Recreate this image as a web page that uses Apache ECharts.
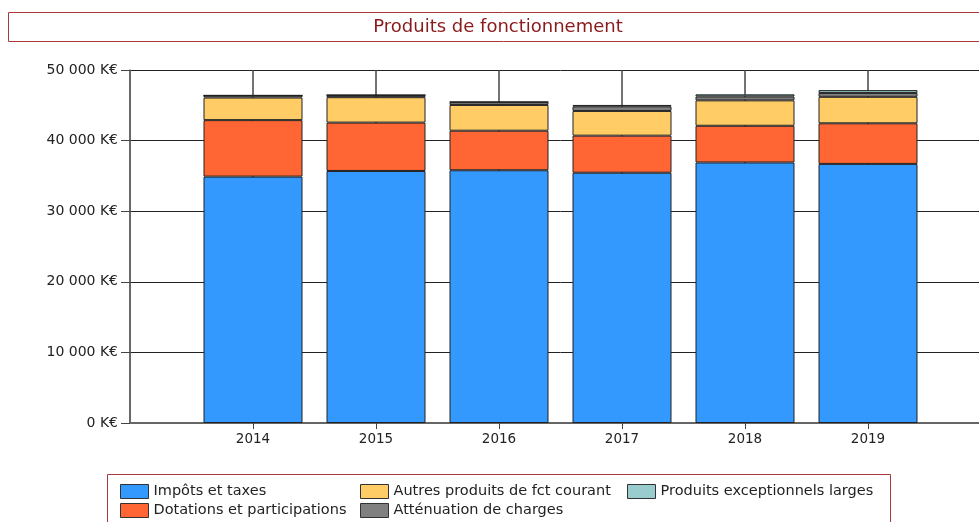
<!DOCTYPE html>
<html>
<head>
<meta charset="utf-8">
<script src="https://cdn.jsdelivr.net/npm/echarts@6/dist/echarts.min.js"></script>
<style>html,body{margin:0;padding:0;background:#fff;overflow:hidden;width:979px;height:522px}#c{width:1000px;height:522px}</style>
</head>
<body>
<div id="c"></div>
<script>
const years = ['2014', '2015', '2016', '2017', '2018', '2019'];
const impots = [34900, 35700, 35800, 35450, 36900, 36700];
const dotations = [8000, 6850, 5600, 5250, 5200, 5750];
const autres = [3200, 3600, 3650, 3500, 3600, 3750];
const attenuation = [300, 300, 400, 650, 550, 550];
const exceptionnels = [0, 0, 50, 200, 300, 400];
const yTicks = [0, 10000, 20000, 30000, 40000, 50000];

const seriesNames = ['Impôts et taxes', 'Dotations et participations', 'Autres produits de fct courant', 'Atténuation de charges', 'Produits exceptionnels larges'];
const seriesColors = ['#3399FF', '#FF6633', '#FFCC66', '#808080', '#99CCCC'];
const seriesData = [impots, dotations, autres, attenuation, exceptionnels];

// pad with an empty slot on each side (axis starts one band before 2014)
const cats = [''].concat(years, ['']);
const pad = arr => [null].concat(arr, [null]);

const FONT = 'DejaVu Sans';
function fmt(v) {
  return String(v).replace(/\B(?=(\d{3})+(?!\d))/g, ' ') + ' K€';
}

const chart = echarts.init(document.getElementById('c'), null, {renderer: 'canvas'});
// legend positions (one legend per item)
const legendPos = [[115, 479], [115, 498], [355, 479], [355, 498], [622, 479]];
const legends = seriesNames.map((n, i) => ({
  left: legendPos[i][0], top: legendPos[i][1], data: [n],
  itemWidth: 28, itemHeight: 14, icon: 'rect', selectedMode: false,
  textStyle: {fontFamily: FONT, fontSize: 14.5, color: '#222'},
  itemStyle: {borderColor: '#333', borderWidth: 1}
}));

chart.setOption({
  animation: false,
  textStyle: {fontFamily: FONT},
  graphic: [
    {type: 'rect', shape: {x: 8.5, y: 12.5, width: 990, height: 29}, style: {fill: '#fff', stroke: '#A83A3A', lineWidth: 1}, z: 0},
    {type: 'text', x: 498, y: 27, style: {text: 'Produits de fonctionnement', font: '18px "' + FONT + '"', fill: '#8B1A1A', textAlign: 'center', textVerticalAlign: 'middle'}},
    {type: 'rect', shape: {x: 107.5, y: 474.5, width: 783, height: 60}, style: {fill: '#fff', stroke: '#A83A3A', lineWidth: 1}, z: 0}
  ],
  legend: legends,
  grid: {left: 130, top: 70, right: 9, bottom: 99, containLabel: false},
  xAxis: {
    type: 'category', data: cats, boundaryGap: false,
    axisLine: {lineStyle: {color: '#666', width: 2}},
    axisTick: {show: true, length: 6, lineStyle: {color: '#444'}, interval: idx => idx !== 0},
    axisLabel: {fontFamily: FONT, fontSize: 13.5, color: '#222', margin: 9},
    splitLine: {show: true, lineStyle: {color: '#444', width: 1.5}}
  },
  yAxis: {
    type: 'value', min: 0, max: 50000, interval: 10000,
    axisLine: {show: true, lineStyle: {color: '#666', width: 1.5}},
    axisTick: {show: true, length: 9, lineStyle: {color: '#444'}},
    axisLabel: {fontFamily: FONT, fontSize: 14, color: '#222', margin: 12,
      formatter: v => yTicks.indexOf(v) >= 0 ? fmt(v) : ''},
    splitLine: {show: true, lineStyle: {color: '#222', width: 1}}
  },
  series: seriesNames.map((n, i) => ({
    name: n, type: 'bar', stack: 'total', barWidth: 99,
    data: pad(seriesData[i]),
    itemStyle: {color: seriesColors[i], borderColor: '#222', borderWidth: 1}
  }))
});
</script>
</body>
</html>
